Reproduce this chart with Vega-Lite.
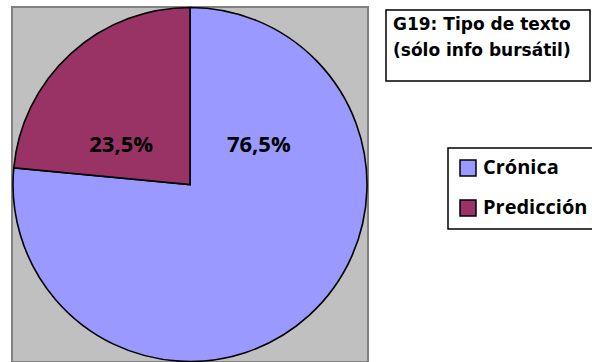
{
  "$schema": "https://vega.github.io/schema/vega-lite/v6.json",
  "width": 356,
  "height": 355,
  "autosize": {"type": "none"},
  "padding": {"left": 12, "top": 7, "right": 224, "bottom": 0},
  "background": "white",
  "config": {
    "locale": {"number": {"decimal": ",", "thousands": ".", "grouping": [3], "currency": ["", " €"]}},
    "view": {"fill": "#C0C0C0", "stroke": "#808080", "strokeWidth": 2},
    "font": "Open Sans",
    "legend": {
      "titleFontSize": 17,
      "titleFont": "DejaVu Sans",
      "titleFontWeight": "bold",
      "titleColor": "black",
      "titleLineHeight": 26,
      "labelFont": "Open Sans",
      "labelFontSize": 20,
      "labelFontWeight": "bold",
      "labelColor": "black"
    }
  },
  "data": {
    "values": [
      {"tipo": "Crónica", "valor": 0.765},
      {"tipo": "Predicción", "valor": 0.235}
    ]
  },
  "layer": [
    {
      "mark": {"type": "arc", "outerRadius": 177, "stroke": "black", "strokeWidth": 1.6},
      "encoding": {
        "theta": {"field": "valor", "type": "quantitative", "stack": true},
        "order": {"field": "tipo", "sort": "ascending"},
        "color": {
          "field": "tipo",
          "type": "nominal",
          "scale": {"domain": ["Crónica", "Predicción"], "range": ["#9999FF", "#993366"]},
          "legend": {
            "orient": "none",
            "legendX": 436,
            "legendY": 141,
            "title": null,
            "symbolType": "square",
            "symbolSize": 256,
            "symbolStrokeColor": "black",
            "symbolStrokeWidth": 1.5,
            "symbolOpacity": 1,
            "labelOffset": 5,
            "rowPadding": 18,
            "padding": 10,
            "strokeColor": "black",
            "encode": {"legend": {"update": {"strokeWidth": {"value": 1.5}}}}
          }
        },
        "opacity": {
          "datum": "G19",
          "type": "nominal",
          "scale": {"range": [1, 1]},
          "legend": {
            "orient": "none",
            "legendX": 374,
            "legendY": 3,
            "title": ["G19: Tipo de texto", "(sólo info bursátil)"],
            "titleLimit": 400,
            "titlePadding": 2,
            "labelExpr": "' '",
            "labelFontSize": 10,
            "labelOffset": 180,
            "symbolSize": 64,
            "symbolFillColor": "transparent",
            "symbolStrokeColor": "transparent",
            "padding": 7,
            "strokeColor": "black",
            "encode": {
              "legend": {"update": {"strokeWidth": {"value": 1.5}}},
              "symbols": {"update": {"fill": {"value": "transparent"}, "stroke": {"value": "transparent"}}}
            }
          }
        }
      }
    },
    {
      "mark": {"type": "text", "font": "Open Sans", "fontSize": 22, "fontWeight": "bold", "color": "black", "baseline": "middle", "dy": -40},
      "encoding": {
        "x": {
          "field": "tipo",
          "type": "nominal",
          "scale": {"type": "point", "domain": ["Predicción", "Crónica"], "padding": 0.793},
          "axis": null
        },
        "text": {"field": "valor", "type": "quantitative", "format": ".1%"}
      }
    }
  ]
}
